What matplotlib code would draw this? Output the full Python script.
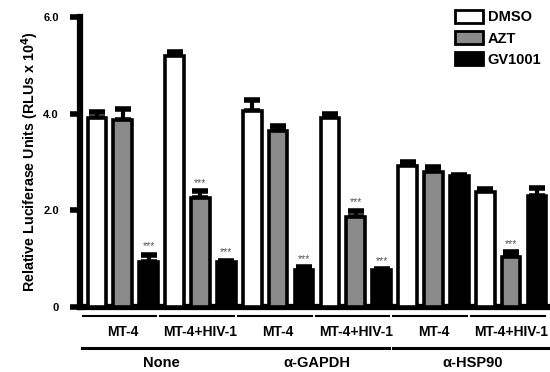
import numpy as np
import matplotlib.pyplot as plt
import matplotlib.transforms as mtransforms
from matplotlib.patches import Patch

plt.rcParams['font.family'] = ['Liberation Sans', 'DejaVu Sans']

# Data
treatments = ['DMSO', 'AZT', 'GV1001']
antibodies = ['None', 'α-GAPDH', 'α-HSP90']
cells = ['MT-4', 'MT-4+HIV-1']

dmso = [3.92, 5.20, 4.05, 3.92, 2.92, 2.38]
azt = [3.88, 2.25, 3.65, 1.87, 2.80, 1.03]
gv1001 = [0.93, 0.92, 0.76, 0.76, 2.70, 2.30]

dmso_err = [0.12, 0.07, 0.24, 0.08, 0.08, 0.07]
azt_err = [0.22, 0.15, 0.10, 0.12, 0.10, 0.10]
gv1001_err = [0.15, 0.04, 0.06, 0.02, 0.04, 0.16]

# which bars get *** (cell group index, treatment index)
stars = [(0, 2), (1, 1), (1, 2), (2, 2), (3, 1), (3, 2), (5, 1)]

colors = ['white', '#8a8a8a', 'black']

fig = plt.figure(figsize=(5.5, 3.72), dpi=100)
ax = fig.add_axes([0.145, 0.175, 0.855, 0.779])

values = [dmso, azt, gv1001]
errs = [dmso_err, azt_err, gv1001_err]
w = 0.72
for t in range(3):
    xs = np.arange(6) * 3 + t
    ax.bar(xs, values[t], width=w, color=colors[t], edgecolor='black',
           linewidth=2.6, zorder=3, label=treatments[t])
    ax.errorbar(xs, values[t], yerr=[np.zeros(6), errs[t]], fmt='none',
                ecolor='black', elinewidth=3, capsize=6, capthick=4, zorder=2)

for g, t in stars:
    x = g * 3 + t
    top = values[t][g] + errs[t][g]
    ax.text(x, top + 0.07, '***', ha='center', va='bottom', fontsize=7.5,
            color='#555555')

ax.set_ylim(0, 6)
ax.set_xlim(-0.66, 17.5)
ax.set_yticks([0, 2, 4, 6])
ax.set_yticklabels(['0', '2.0', '4.0', '6.0'], fontweight='bold', fontsize=8)
ax.tick_params(axis='y', width=4, length=7, pad=8)
ax.set_xticks([])
for s in ['top', 'right']:
    ax.spines[s].set_visible(False)
ax.spines['left'].set_linewidth(4.5)
ax.spines['bottom'].set_linewidth(4.5)
ax.set_ylabel('Relative Luciferase Units (RLUs x 10$^\\mathbf{4}$)',
              fontweight='bold', fontsize=10.3, labelpad=2)

trans = mtransforms.blended_transform_factory(ax.transData, ax.transAxes)
for g in range(6):
    x0 = g * 3 - 0.55
    x1 = g * 3 + 2.3
    ax.plot([x0, x1], [-0.031, -0.031], color='black', lw=1.5,
            transform=trans, clip_on=False)
    ax.text(g * 3 + 1, -0.088, cells[g % 2], transform=trans, ha='center',
            va='center', fontsize=10, fontweight='bold')
for a in range(3):
    x0 = a * 6 - 0.58
    x1 = a * 6 + 5.3 if a < 2 else 17.5
    ax.plot([x0, x1], [-0.141, -0.141], color='black', lw=2.2,
            transform=trans, clip_on=False)
    ax.text(a * 6 + 2.5, -0.195, antibodies[a], transform=trans, ha='center',
            va='center', fontsize=10.5, fontweight='bold')

handles = [Patch(facecolor=colors[t], edgecolor='black', linewidth=2,
                 label=treatments[t]) for t in range(3)]
leg = ax.legend(handles=handles, loc='upper right', bbox_to_anchor=(1.0, 1.055),
                frameon=False, handlelength=1.9, handleheight=1.0,
                labelspacing=0.45, handletextpad=0.35, borderaxespad=0.2,
                prop={'weight': 'bold', 'size': 10.5})

fig.savefig('out.png', dpi=100)
